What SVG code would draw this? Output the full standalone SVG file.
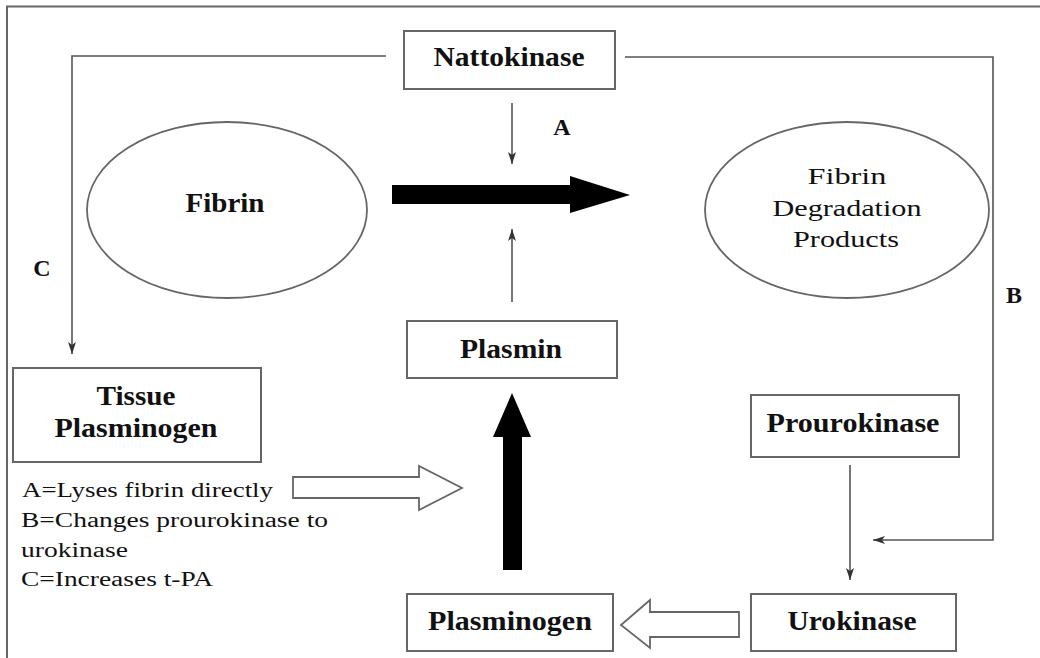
<svg xmlns="http://www.w3.org/2000/svg" width="1040" height="658" viewBox="0 0 1040 658">
<style>
.box{fill:#fff;stroke:#666;stroke-width:2}
.ell{fill:#fff;stroke:#666;stroke-width:1.8}
.ln{fill:none;stroke:#555;stroke-width:1.6}
.lb{font-weight:bold;font-size:27px;text-anchor:middle;fill:#111}
.rg{font-size:24px;text-anchor:middle;fill:#111}
.lg{font-size:20px;fill:#111}
.let{font-weight:bold;font-size:24px;text-anchor:middle;fill:#111}
.solid{fill:#000;stroke:none}
.hollow{fill:#fff;stroke:#666;stroke-width:1.8}
</style>
<defs>
<marker id="ah" viewBox="0 0 12 8" refX="12" refY="4" markerWidth="12" markerHeight="8" markerUnits="userSpaceOnUse" orient="auto">
<path d="M0,0 L12,4 L0,8 L3,4 Z" fill="#333"/>
</marker>
</defs>
<rect width="1040" height="658" fill="#fff"/>
<path d="M7,660 V6.5 H1042" fill="none" stroke="#666" stroke-width="2"/>

<g id="connectors">
<path class="ln" d="M386,56 H72 V354" marker-end="url(#ah)"/>
<path class="ln" d="M625,57 H993 V540 H873" marker-end="url(#ah)"/>
<path class="ln" d="M512,103 V164" marker-end="url(#ah)"/>
<path class="ln" d="M512,302 V229" marker-end="url(#ah)"/>
<path class="ln" d="M850,465 V580" marker-end="url(#ah)"/>
<polygon class="solid" points="392,185 570,185 570,176 630,195 570,213 570,204 392,204"/>
<polygon class="solid" points="503,570 503,437 493,437 512,393 531,437 522,437 522,570"/>
<polygon class="hollow" points="293,477 419,477 419,466 462,488 419,510 419,498 293,498"/>
<polygon class="hollow" points="739,612 650,612 650,600 621,625 650,648 650,637 739,637"/>
</g>

<g font-family="Liberation Serif, Times New Roman, serif">
<g id="label-A"><text class="let" x="562" y="135">A</text></g>
<g id="label-B"><text class="let" x="1014" y="303">B</text></g>
<g id="label-C"><text class="let" x="42" y="276">C</text></g>

<g id="nattokinase">
<rect class="box" x="404" y="31" width="211" height="58"/>
<text class="lb" x="509" y="66" textLength="151" lengthAdjust="spacingAndGlyphs">Nattokinase</text>
</g>

<g id="fibrin">
<ellipse class="ell" cx="227" cy="210" rx="140" ry="88"/>
<text class="lb" x="225" y="212" textLength="79" lengthAdjust="spacingAndGlyphs">Fibrin</text>
</g>

<g id="fdp">
<ellipse class="ell" cx="847" cy="210" rx="142" ry="88"/>
<text class="rg" x="847" y="184" textLength="79" lengthAdjust="spacingAndGlyphs">Fibrin</text>
<text class="rg" x="847" y="216" textLength="149" lengthAdjust="spacingAndGlyphs">Degradation</text>
<text class="rg" x="846" y="247" textLength="106" lengthAdjust="spacingAndGlyphs">Products</text>
</g>

<g id="plasmin">
<rect class="box" x="407" y="321" width="210" height="57"/>
<text class="lb" x="511" y="358" textLength="102" lengthAdjust="spacingAndGlyphs">Plasmin</text>
</g>

<g id="tissue-plasminogen">
<rect class="box" x="13" y="368" width="248" height="94"/>
<text class="lb" x="136" y="405" textLength="79" lengthAdjust="spacingAndGlyphs">Tissue</text>
<text class="lb" x="136" y="437" textLength="163" lengthAdjust="spacingAndGlyphs">Plasminogen</text>
</g>

<g id="legend">
<text class="lg" x="22" y="497" textLength="251" lengthAdjust="spacingAndGlyphs">A=Lyses fibrin directly</text>
<text class="lg" x="21" y="527" textLength="307" lengthAdjust="spacingAndGlyphs">B=Changes prourokinase to</text>
<text class="lg" x="21" y="557" textLength="107" lengthAdjust="spacingAndGlyphs">urokinase</text>
<text class="lg" x="21" y="586" textLength="192" lengthAdjust="spacingAndGlyphs">C=Increases t-PA</text>
</g>

<g id="prourokinase">
<rect class="box" x="751" y="395" width="208" height="62"/>
<text class="lb" x="853" y="432" textLength="173" lengthAdjust="spacingAndGlyphs">Prourokinase</text>
</g>

<g id="urokinase">
<rect class="box" x="751" y="594" width="205" height="57"/>
<text class="lb" x="852" y="630" textLength="129" lengthAdjust="spacingAndGlyphs">Urokinase</text>
</g>

<g id="plasminogen">
<rect class="box" x="407" y="594" width="206" height="57"/>
<text class="lb" x="510" y="630" textLength="164" lengthAdjust="spacingAndGlyphs">Plasminogen</text>
</g>
</g>
</svg>
